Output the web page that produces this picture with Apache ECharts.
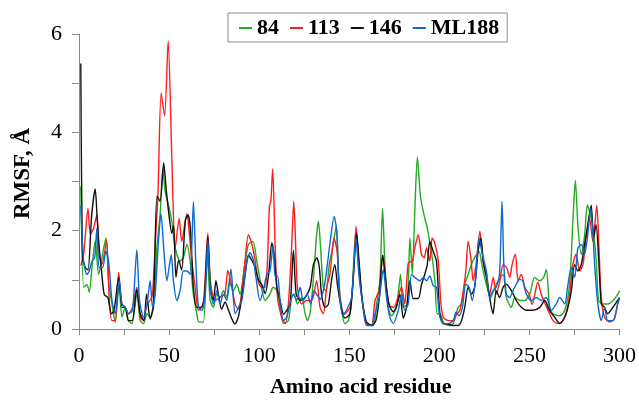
<!DOCTYPE html>
<html>
<head>
<meta charset="utf-8">
<script src="https://cdn.jsdelivr.net/npm/echarts@6/dist/echarts.min.js"></script>
<style>
html,body{margin:0;padding:0;background:#fff;}
#chart{width:639px;height:403px;}
</style>
</head>
<body>
<div id="chart"></div>
<script>
// Series names
const seriesNames = ['84', '113', '146', 'ML188'];

// Axis ticks
const xTicks = [0, 50, 100, 150, 200, 250, 300];
const yTicks = [0, 2, 4, 6];

// RMSF values: [residue, RMSF (Å)]
const rmsf84 = [[1,2.9],[2.6,0.85],[4.4,0.9],[5.7,0.75],[7.2,1.25],[9,1.79],[10.9,1.11],[13.7,1.65],[15.1,1.85],[16.4,0.98],[18.3,0.5],[20.1,0.14],[22.3,0.9],[23.8,0.24],[25.7,0.44],[27.5,0.17],[29.4,0.11],[32.1,0.71],[34,0.17],[35.8,0.11],[37.7,0.31],[39.5,0.24],[41.4,0.44],[43.2,1.65],[45,2.32],[46.6,3.26],[47.8,2.8],[49.7,2.52],[51.5,2.19],[53.4,1.65],[56.1,1.38],[57.9,1.45],[59.9,1.72],[61.7,1.38],[63.5,0.71],[65.4,0.31],[66.5,0.14],[69,0.14],[71.2,1.5],[72.8,0.58],[74.6,0.44],[76.5,0.71],[78.3,0.64],[80.2,0.78],[82,0.64],[83.5,0.95],[85.7,0.78],[87.6,0.91],[89.4,0.71],[91.8,1.25],[94,1.72],[96.5,1.78],[98.7,1.38],[100.6,0.98],[103.3,0.58],[106,0.71],[107.8,0.85],[109.8,0.78],[111.6,0.44],[113.5,0.11],[116.2,0.17],[118,0.64],[119.4,0.71],[121.2,0.51],[123.6,0.64],[125.5,0.31],[126.7,0.17],[128.2,0.31],[130,0.98],[131.9,1.92],[132.9,2.19],[134.1,1.65],[135.6,0.85],[137.1,0.78],[138.9,1.31],[140.8,1.65],[142.8,2.1],[144.2,1.0],[145.8,0.38],[147.6,0.11],[149.5,0.17],[151.3,0.58],[153.7,2.02],[155.5,1.25],[157.8,0.38],[159.6,0.11],[163.3,0.07],[165.2,0.51],[167,0.98],[168.5,2.45],[169.8,1.31],[171.6,0.44],[173.5,0.27],[176.2,0.44],[178.5,1.11],[179.9,0.44],[182.2,0.51],[183.7,1.85],[185,1.11],[186.5,2.52],[187.8,3.5],[189.5,2.7],[191.3,2.35],[193.3,2.05],[195.7,1.55],[197.5,0.98],[198.8,0.31],[200.3,0.31],[202.2,0.14],[205,0.07],[207.7,0.11],[210.4,0.44],[212.3,0.51],[214.1,0.91],[216,1.11],[217.8,1.31],[219.6,1.45],[222,1.58],[223.9,1.25],[226.1,0.91],[228.4,0.64],[230.8,0.85],[232.6,0.98],[235.4,1.11],[237.2,0.64],[240,0.44],[241.9,0.64],[244.6,0.58],[247.4,0.58],[250.2,0.71],[252.9,1.05],[255.7,0.98],[257.9,1.05],[259.4,1.21],[261.2,0.44],[263.1,0.31],[266.8,0.27],[269.6,0.38],[272.3,0.91],[274.2,2.25],[275.5,3.02],[277,2.05],[278.8,1.52],[280.7,1.92],[282.1,2.52],[283.4,2.39],[285.3,2.05],[287.1,1.38],[288.4,0.58],[290.8,0.51],[293.6,0.51],[296.4,0.58],[299.1,0.71],[300,0.78]];

const rmsf113 = [[1,1.29],[2.6,1.52],[5,2.45],[6.3,1.92],[8.1,2.05],[9.9,2.32],[11.2,1.52],[12.7,1.32],[15.3,1.79],[16.8,0.58],[18.3,0.17],[20.1,0.17],[22,1.15],[23.8,0.51],[25.7,0.44],[27.5,0.31],[29.7,0.44],[32.1,0.85],[34,0.24],[35.8,0.17],[37.7,0.51],[39.5,0.58],[40.8,0.71],[42.3,1.72],[43.8,2.72],[45.6,4.8],[47.5,4.33],[49.5,5.86],[51.5,3.5],[53.4,1.65],[55.6,2.25],[57,1.78],[59.9,2.35],[61,2.05],[62.6,1.39],[64.5,0.85],[66.3,0.38],[69,0.5],[71.5,1.95],[73,0.95],[75.5,0.58],[78.5,0.65],[81,0.72],[82.6,1.19],[84.5,0.92],[86.7,0.5],[88.5,0.4],[90.4,0.78],[92.2,1.4],[94,1.92],[96,1.72],[97.8,1.38],[99.6,0.95],[101.5,0.85],[103.3,0.85],[104.5,1.3],[105.7,2.5],[106.5,2.6],[107.5,3.26],[108.9,1.65],[110.2,0.64],[112.5,0.24],[114.4,0.11],[116.2,0.51],[118,1.65],[119.2,2.6],[120,1.99],[121.2,0.85],[123.6,0.51],[126.4,0.58],[129.2,0.58],[131.9,0.98],[133.8,0.44],[135.6,0.31],[137.5,0.85],[139.3,1.11],[141.5,1.85],[143.2,1.6],[144.9,0.64],[147.2,0.3],[150.4,0.44],[152.2,0.98],[153.8,2.09],[155.6,1.11],[157.4,0.51],[159.6,0.11],[162.4,0.09],[164.3,0.58],[166.5,0.78],[168.7,1.5],[170.6,0.85],[172.4,0.48],[174.8,0.44],[176.8,0.62],[179,0.85],[180.8,0.51],[182.8,1.35],[185,1.38],[186.4,1.65],[188.3,1.92],[190.1,1.51],[191.6,1.45],[192.9,1.65],[194.7,1.38],[196,1.85],[197.5,1.75],[199.4,1.38],[200.9,0.51],[202.2,0.24],[205,0.17],[207.7,0.17],[209.6,0.3],[211.4,0.38],[213.3,0.78],[214.7,1.18],[216,1.78],[217.5,1.45],[218.8,0.98],[220.6,1.38],[222.5,1.99],[224.3,1.38],[226.2,1.11],[228,0.71],[229.9,1.05],[231.7,0.71],[233.6,0.98],[235.4,1.31],[237.3,1.25],[239.1,1.05],[240.4,1.31],[242.2,1.52],[243.7,0.98],[245.5,1.11],[247.4,0.85],[249.8,0.71],[251.5,0.5],[254.7,0.95],[256.6,0.7],[258.8,0.51],[261.2,0.31],[263.1,0.17],[265.8,0.11],[268.5,0.17],[270.7,0.38],[272.6,0.78],[274.1,1.31],[275.9,1.52],[277.9,1.18],[279.7,1.31],[281.5,1.85],[283.4,2.25],[285.2,1.78],[287.4,2.52],[288.6,1.65],[289.9,0.64],[291.7,0.24],[294.5,0.14],[297.2,0.21],[299,0.51],[300,0.64]];

const rmsf146 = [[1,5.4],[2,1.45],[3.5,1.25],[5,1.2],[7,2.3],[9,2.85],[10,2.3],[11,1.75],[12.5,1.18],[14,0.7],[16,0.64],[18,0.31],[19.5,0.38],[22,1.05],[24,0.44],[25.5,0.44],[27.5,0.17],[29.5,0.17],[32,0.8],[34,0.31],[36,0.17],[37.5,0.71],[39.5,0.2],[41.3,0.5],[43.3,2.7],[45,2.6],[47,3.38],[48.5,2.8],[50,2.3],[51.5,1.95],[52.5,2.1],[53.8,1.05],[55.3,1.4],[57,1.2],[59,2.2],[60.5,2.32],[61.8,2.05],[63.5,0.85],[65.4,0.44],[67.8,0.44],[69.6,0.65],[71.5,1.88],[73,0.78],[74.6,0.58],[76,0.98],[77.4,0.7],[79.2,0.4],[81.1,0.55],[83,0.38],[84.7,0.22],[86.5,0.1],[88.4,0.24],[90.5,0.68],[92.2,1.11],[94,1.5],[95.9,1.4],[97.8,1.25],[99.6,1.0],[101.5,0.9],[103.3,0.72],[105.2,1.1],[107,1.75],[108.3,1.5],[109.8,0.85],[111.6,0.58],[113.5,0.3],[115.3,0.38],[117.2,0.5],[119,1.6],[120.5,0.72],[122.7,0.58],[125.5,0.64],[128.3,0.85],[130.1,1.31],[132,1.45],[133.4,1.25],[134.7,0.68],[136.6,0.44],[138.4,0.5],[140.2,1.0],[142,1.31],[143.4,0.91],[145.2,0.5],[147.6,0.22],[150.4,0.31],[152.2,1.05],[154.1,1.95],[155.5,1.35],[157.2,0.6],[159.5,0.15],[162.4,0.07],[164.8,0.17],[166.7,0.64],[168.5,1.5],[170.3,0.95],[172,0.5],[174.4,0.35],[176.6,0.5],[178.1,0.71],[180,0.22],[181.8,0.44],[183.7,0.98],[185.5,0.62],[188.3,0.62],[190.1,0.9],[191.9,1.11],[193.3,1.31],[194.7,1.78],[196.6,1.58],[198.4,1.38],[200.3,0.31],[202.1,0.11],[204.9,0.1],[207.7,0.07],[210.4,0.07],[212.3,0.17],[214.1,0.44],[216,0.85],[217.8,0.71],[219.6,0.85],[221.5,1.58],[223,1.85],[224.6,1.31],[226.1,1.05],[227.9,0.64],[229.8,0.31],[231.6,0.78],[233.4,0.64],[235.4,0.85],[237.2,0.91],[240,0.78],[242.7,0.58],[245.5,0.44],[248.3,0.38],[252,0.38],[255.7,0.44],[258.5,0.58],[261.2,0.38],[264,0.24],[266.8,0.11],[269.6,0.24],[271.4,0.44],[273.3,0.78],[275.1,1.31],[276.9,1.18],[278.8,1.31],[280.6,1.72],[282.4,2.12],[284.3,2.52],[285.6,1.85],[287,2.12],[288.6,1.31],[289.9,0.51],[291.7,0.44],[293.5,0.31],[296.3,0.44],[299,0.58],[300,0.62]];

const rmsfML188 = [[1,2.5],[2.6,1.38],[4.4,1.11],[5.7,1.18],[7.2,1.38],[8.7,1.45],[9.9,2.05],[11.2,1.25],[13.1,1.25],[14.9,1.58],[16.4,1.38],[18.3,0.58],[20.1,0.31],[22.3,0.98],[23.8,0.51],[25.7,0.44],[27.5,0.31],[29.7,0.38],[32.1,1.61],[33.6,0.58],[35.8,0.24],[37.7,0.51],[39.5,0.98],[40.8,0.44],[42.3,0.71],[44.1,1.79],[45.5,2.35],[47.2,1.55],[48.8,0.98],[50.2,1.3],[51.2,1.51],[52.4,0.98],[54.3,0.58],[56.1,0.78],[57.9,1.18],[59.9,1.18],[61.7,1.11],[63.5,2.59],[64.8,1.38],[66.3,0.44],[68.2,0.38],[70,0.71],[71.5,1.79],[72.8,0.85],[74.6,0.51],[76.5,0.78],[78.3,0.51],[80.2,0.71],[82,0.58],[84.3,1.22],[85.5,0.7],[86.7,0.31],[88.5,0.44],[90.5,0.6],[93.1,1.35],[94.9,1.55],[96.8,1.4],[98.6,0.95],[100.4,0.58],[102.3,0.78],[104.2,1.11],[106,1.18],[107.7,1.7],[108.9,1.05],[110.2,1.08],[111.6,0.58],[113.5,0.17],[115.3,0.24],[117.5,0.58],[119,0.71],[120.8,0.58],[122.7,0.85],[124.5,0.58],[126.7,0.71],[128.6,0.51],[130.4,0.78],[131.9,0.71],[133.8,0.6],[136.3,0.9],[137.8,1.3],[139.5,1.8],[141.6,2.29],[143,2.0],[144.5,0.75],[146.5,0.28],[148.5,0.38],[151.3,0.64],[153.7,1.85],[155.5,1.05],[157.8,0.44],[159.6,0.07],[162.4,0.07],[164.3,0.31],[166.7,0.64],[168.9,1.21],[170.7,0.64],[172.5,0.24],[174.4,0.11],[177.2,0.38],[179,0.71],[180.8,0.38],[182.7,0.51],[184.6,1.11],[186.4,1.05],[189.2,0.98],[191,1.05],[192.9,0.98],[194.7,1.08],[196.6,0.88],[198.4,0.85],[200.3,0.24],[202.5,0.11],[204.9,0.11],[207.7,0.17],[209.2,0.34],[211,0.27],[212.8,0.44],[214.7,0.91],[216.5,0.85],[218.3,0.58],[220.2,1.05],[222,1.85],[223.9,1.52],[226.1,1.18],[227.9,0.64],[229.8,0.78],[231.6,0.85],[233.4,1.11],[234.8,2.6],[235.8,1.31],[237.2,0.71],[239,0.64],[240.9,0.78],[242.7,0.91],[244.6,1.01],[246.3,0.98],[248.3,0.71],[251,0.58],[253.8,0.64],[256.6,0.58],[259.4,0.64],[262.2,0.38],[264.9,0.51],[266.8,0.64],[269.6,0.51],[271.4,0.91],[273.3,1.25],[275.1,1.05],[276.9,1.65],[278.8,1.72],[280.6,1.52],[282.4,1.92],[283.9,2.45],[285.2,1.99],[286.2,1.31],[288,0.51],[289.9,0.17],[291.7,0.44],[293.5,0.17],[296.3,0.17],[299,0.51],[300,0.64]];

const seriesData = [rmsf84, rmsf113, rmsf146, rmsfML188];
const colors = ['#22aa22', '#ff1c1c', '#111111', '#0a6ad2'];

const serif = '"Liberation Serif", "Times New Roman", serif';
const chart = echarts.init(document.getElementById('chart'), null, {renderer: 'canvas'});

chart.setOption({
  animation: false,
  backgroundColor: '#ffffff',
  grid: {left: 79, right: 19, top: 34, bottom: 71, containLabel: false},
  legend: {
    data: seriesNames,
    left: 228, top: 13,
    orient: 'horizontal',
    icon: 'rect',
    itemWidth: 13, itemHeight: 2,
    itemGap: 11,
    padding: [4, 8, 3, 11],
    borderColor: '#8c8c8c', borderWidth: 1,
    textStyle: {fontFamily: serif, fontWeight: 'bold', fontSize: 22, color: '#000'}
  },
  xAxis: {
    type: 'value', min: 0, max: 300, interval: 25,
    name: 'Amino acid residue', nameLocation: 'middle', nameGap: 47,
    nameTextStyle: {fontFamily: serif, fontWeight: 'bold', fontSize: 22, color: '#000', padding: [0, 0, 0, 23]},
    axisLine: {lineStyle: {color: '#888', width: 1}},
    axisTick: {show: true, length: 6, lineStyle: {color: '#888'}},
    splitLine: {show: false},
    axisLabel: {
      fontFamily: serif, fontSize: 22, color: '#000', margin: 16,
      formatter: v => xTicks.includes(v) ? String(v) : ''
    }
  },
  yAxis: {
    type: 'value', min: 0, max: 6, interval: 1,
    name: 'RMSF, Å', nameLocation: 'middle', nameGap: 44,
    nameTextStyle: {fontFamily: serif, fontWeight: 'bold', fontSize: 23, color: '#000', padding: [0, 0, 0, 16]},
    axisLine: {show: true, lineStyle: {color: '#888', width: 1}},
    axisTick: {show: true, length: 7, lineStyle: {color: '#888'}},
    splitLine: {show: false},
    axisLabel: {
      fontFamily: serif, fontSize: 22, color: '#000', margin: 17,
      formatter: v => yTicks.includes(v) ? String(v) : ''
    }
  },
  series: seriesNames.map((n, i) => ({
    name: n, type: 'line', data: seriesData[i],
    showSymbol: false, symbol: 'none', smooth: 0.25,
    lineStyle: {color: colors[i], width: 1.4},
    itemStyle: {color: colors[i]}
  }))
});
</script>
</body>
</html>
